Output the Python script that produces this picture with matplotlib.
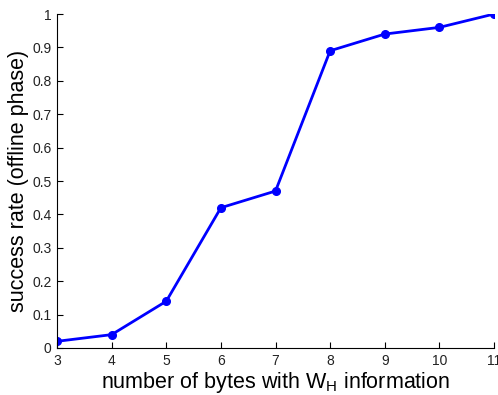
import matplotlib
matplotlib.use("Agg")
import matplotlib.pyplot as plt

plt.rcParams['font.family'] = ['Liberation Sans', 'DejaVu Sans']

num_bytes = [3, 4, 5, 6, 7, 8, 9, 10, 11]
success_rate = [0.02, 0.04, 0.14, 0.42, 0.47, 0.89, 0.94, 0.96, 1.0]
x_ticks = [3, 4, 5, 6, 7, 8, 9, 10, 11]
y_ticks = [0, 0.1, 0.2, 0.3, 0.4, 0.5, 0.6, 0.7, 0.8, 0.9, 1]
y_tick_labels = ['0', '0.1', '0.2', '0.3', '0.4', '0.5', '0.6', '0.7', '0.8', '0.9', '1']

fig = plt.figure(figsize=(4.98, 3.95), dpi=100)
ax = fig.add_axes([0.1145, 0.119, 0.8775, 0.8455])

ax.plot(num_bytes, success_rate, color='#0000ff', lw=2, marker='o', ms=5.5)

ax.set_xlim(3, 11)
ax.set_ylim(0, 1)
ax.set_xticks(x_ticks)
ax.set_yticks(y_ticks)
ax.set_yticklabels(y_tick_labels)
ax.tick_params(direction='in', length=4, labelsize=10, width=0.8, pad=4,
               labelcolor='#222222')
ax.spines['top'].set_visible(False)
ax.spines['right'].set_visible(False)

ax.set_xlabel('number of bytes with W$_\\mathregular{H}$ information', fontsize=15.5, labelpad=2)
ax.set_ylabel('success rate (offline phase)', fontsize=15.5, labelpad=2)

fig.savefig('out.png', dpi=100)
